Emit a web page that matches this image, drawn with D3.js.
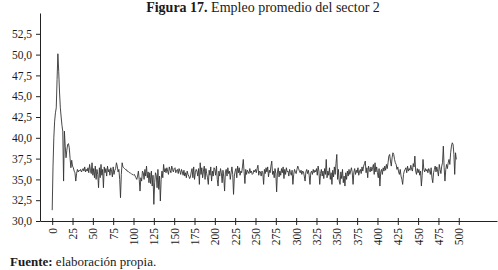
<!DOCTYPE html>
<html>
<head>
<meta charset="utf-8">
<script src="https://cdn.jsdelivr.net/npm/d3@7"></script>
<style>
  body { margin: 0; background: #fff; }
  svg { display: block; }
  text { font-family: "Liberation Serif", "DejaVu Serif", serif; fill: #1a1a1a; }
</style>
</head>
<body>
<div id="chart"></div>
<script>
// empleo promedio del sector 2, one value per period (0..497)
const empleo = [
  31.3, 36.5, 40.0, 42.0, 43.0, 43.6, 47.0, 50.1, 48.0, 45.5, 43.6, 42.5, 41.5, 40.8, 34.8, 40.8, 39.0, 37.6, 38.5, 39.2,
  39.3, 38.8, 37.5, 36.4, 37.3, 36.6, 36.4, 36.0, 35.8, 34.8, 35.7, 36.2, 35.9, 36.1, 36.0, 36.2, 35.9, 36.1, 36.3, 36.0,
  36.5, 35.9, 36.2, 36.0, 36.4, 35.8, 36.8, 36.1, 35.7, 37.0, 35.5, 36.3, 35.2, 36.6, 35.0, 36.2, 35.6, 34.0, 36.4, 35.2,
  36.8, 35.5, 36.2, 34.0, 36.5, 35.8, 36.3, 35.4, 36.6, 35.9, 36.2, 35.5, 36.4, 36.0, 35.3, 36.5, 35.6, 36.1, 36.3, 37.0,
  36.6, 35.9, 36.2, 35.0, 32.8, 35.6, 37.0, 36.5, 36.4, 36.3, 36.2, 36.2, 36.0, 36.0, 35.9, 35.8, 35.8, 35.7, 35.6, 35.6,
  35.5, 35.6, 35.4, 35.2, 35.0, 35.4, 36.0, 35.0, 33.6, 35.2, 34.8, 36.0, 35.8, 35.0, 36.2, 35.4, 36.6, 35.2, 35.9, 34.6,
  35.8, 34.5, 36.0, 34.2, 35.5, 32.0, 34.6, 35.8, 35.5, 34.0, 36.2, 33.8, 35.4, 32.4, 35.0, 36.0, 35.2, 36.8, 35.9, 36.3,
  35.8, 36.4, 36.0, 35.6, 36.5, 36.1, 35.8, 36.6, 36.2, 35.9, 36.3, 36.4, 35.8, 36.1, 36.2, 35.7, 36.3, 36.0, 35.6, 36.2,
  35.9, 35.5, 36.1, 35.4, 35.8, 35.2, 36.0, 35.6, 35.4, 35.1, 35.3, 35.9, 36.3, 35.2, 36.5, 35.0, 35.8, 36.2, 36.0, 35.4,
  36.3, 34.4, 37.0, 35.6, 36.4, 35.2, 36.0, 36.6, 35.0, 36.3, 35.7, 35.2, 34.4, 36.1, 35.5, 36.5, 34.8, 36.0, 35.4, 36.4,
  36.2, 35.5, 36.6, 35.0, 34.2, 36.0, 35.4, 36.3, 35.8, 34.6, 36.1, 35.3, 33.6, 35.9, 36.2, 35.4, 36.4, 35.7, 36.0, 35.0,
  35.8, 36.5, 35.6, 33.2, 35.4, 36.0, 36.3, 35.2, 36.6, 35.8, 36.4, 35.5, 36.0, 35.8, 36.5, 37.4, 35.9, 34.5, 36.2, 35.6,
  36.1, 35.9, 35.7, 36.3, 35.8, 36.0, 35.6, 35.7, 36.1, 35.9, 36.2, 35.8, 36.3, 36.7, 35.5, 36.0, 35.9, 35.4, 36.0, 35.8,
  34.4, 36.2, 35.7, 36.4, 35.9, 36.5, 35.3, 36.1, 35.8, 36.6, 37.2, 35.6, 36.0, 35.2, 36.3, 35.7, 33.5, 35.9, 36.4, 35.3,
  36.0, 35.5, 36.3, 35.8, 36.5, 35.1, 36.2, 35.6, 36.4, 35.9, 36.0, 35.4, 36.2, 35.8, 35.5, 36.1, 34.4, 35.6, 36.2, 35.9,
  35.7, 36.2, 36.6, 36.3, 36.0, 35.8, 36.1, 35.6, 36.0, 35.9, 35.4, 34.8, 35.9, 36.2, 35.7, 36.1, 35.5, 34.4, 35.8, 36.0,
  35.6, 36.2, 35.8, 36.1, 35.9, 36.3, 35.5, 36.6, 36.0, 34.4, 35.7, 36.2, 35.4, 36.0, 35.1, 36.3, 35.6, 37.4, 35.2, 36.0,
  35.5, 36.4, 35.0, 35.8, 34.4, 36.1, 35.3, 36.5, 35.6, 36.9, 38.0, 35.0, 36.2, 34.8, 34.4, 35.9, 35.1, 36.2, 34.6, 35.4,
  34.2, 35.8, 35.0, 36.0, 35.4, 36.2, 35.6, 36.0, 36.4, 35.8, 34.4, 35.9, 36.3, 35.6, 36.1, 35.8, 36.4, 35.5, 36.0, 36.2,
  35.7, 36.5, 36.0, 36.6, 36.9, 37.2, 35.8, 36.4, 35.2, 36.6, 36.2, 35.9, 36.5, 36.0, 36.4, 36.8, 35.6, 37.0, 35.9, 36.5,
  35.8, 35.2, 36.3, 34.2, 35.9, 36.2, 35.6, 36.4, 36.0, 36.6, 36.1, 36.8, 36.3, 37.0, 37.8, 38.0, 37.2, 36.6, 37.6, 38.2,
  38.0, 37.4, 37.0, 36.8, 36.2, 36.5, 35.9, 35.6, 36.2, 35.4, 35.0, 34.4, 35.6, 36.0, 36.2, 36.4, 35.8, 36.6, 36.0, 36.3,
  36.1, 36.7, 36.2, 36.0, 36.9, 36.5, 37.8, 36.0, 35.6, 36.3, 35.8, 36.2, 35.5, 36.0, 34.2, 35.5, 37.4, 36.2, 35.9, 36.3,
  36.0, 36.2, 35.8, 36.3, 36.1, 35.6, 36.4, 35.2, 34.6, 35.8, 36.2, 36.6, 35.9, 36.5, 36.0, 35.4, 36.8, 36.2, 35.7, 36.6,
  37.0, 39.0, 36.4, 34.8, 36.2, 36.8, 36.3, 37.0, 37.4, 36.8, 38.2, 39.0, 39.4, 39.2, 38.0, 35.6, 38.2, 37.4
];
const periodos = empleo.map((d, i) => i);

const yTicks = [30, 32.5, 35, 37.5, 40, 42.5, 45, 47.5, 50, 52.5];
const xTicks = d3.range(0, 501, 25);

const titulo = "Figura 17.";
const subtitulo = " Empleo promedio del sector 2";
const fuente = "Fuente:";
const fuenteTexto = " elaboración propia.";

const width = 498;
const height = 270;

const svg = d3.select("#chart")
              .append("svg")
              .attr("width", width)
              .attr("height", height);

// scales, axis lines run a bit past the data like in the original
const x = d3.scaleLinear()
            .domain([-15, 547])
            .range([40, 497]);

const y = d3.scaleLinear()
            .domain([30, 55])
            .range([221, 13]);

// title
svg.append("text")
   .attr("x", 263)
   .attr("y", 12)
   .attr("text-anchor", "middle")
   .attr("font-size", "14px")
   .call(t => {
       t.append("tspan").attr("font-weight", "bold").text(titulo);
       t.append("tspan").text(subtitulo);
   });

const fmt = v => d3.format(".1f")(v).replace(".", ",");

// y axis
const yAxis = svg.append("g")
   .attr("transform", `translate(${x(-15)},0)`)
   .call(d3.axisLeft(y).tickValues(yTicks).tickFormat(fmt).tickSizeInner(4).tickSizeOuter(0).tickPadding(4));

yAxis.select(".domain").attr("stroke", "#222");
yAxis.selectAll(".tick line").attr("stroke", "#222");
yAxis.selectAll(".tick text")
     .attr("font-size", "11.5px")
     .attr("font-family", "Liberation Serif, serif");

// x axis
const xAxis = svg.append("g")
   .attr("transform", `translate(0,${y(30)})`)
   .call(d3.axisBottom(x).tickValues(xTicks).tickSizeInner(4).tickSizeOuter(0));

xAxis.select(".domain").attr("stroke", "#222");
xAxis.selectAll(".tick line")
     .attr("stroke", "#222")
     .attr("y1", -3)
     .attr("y2", 4);
xAxis.selectAll(".tick text")
     .attr("font-size", "11.5px")
     .attr("font-family", "Liberation Serif, serif")
     .attr("text-anchor", "end")
     .attr("transform", "rotate(-90)")
     .attr("x", -7)
     .attr("y", 0)
     .attr("dy", "0.35em");

// series line
const line = d3.line()
               .x((d, i) => x(periodos[i]))
               .y(d => y(d));

svg.append("path")
   .datum(empleo)
   .attr("fill", "none")
   .attr("stroke", "#333")
   .attr("stroke-width", 0.9)
   .attr("stroke-linejoin", "round")
   .attr("d", line);

// source note
svg.append("text")
   .attr("x", 10)
   .attr("y", 266)
   .attr("font-size", "13px")
   .call(t => {
       t.append("tspan").attr("font-weight", "bold").text(fuente);
       t.append("tspan").text(fuenteTexto);
   });
</script>
</body>
</html>
